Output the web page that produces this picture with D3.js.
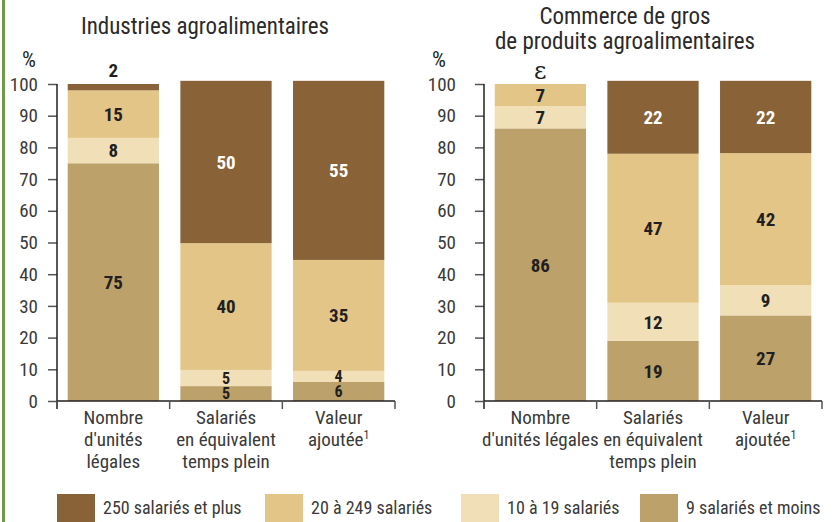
<!DOCTYPE html>
<html><head><meta charset="utf-8">
<script src="https://cdn.jsdelivr.net/npm/d3@7"></script>
<style>
html,body{margin:0;padding:0;background:#fff;}
svg{display:block;}
</style></head>
<body>
<svg id="chart" width="834" height="522"></svg>
<script>
// ---------- DATA ----------
const categoriesLeft = [["Nombre","d'unités","légales"],["Salariés","en équivalent","temps plein"],["Valeur","ajoutée¹"]];
const categoriesRight = [["Nombre","d'unités légales"],["Salariés","en équivalent","temps plein"],["Valeur","ajoutée¹"]];
const seriesNames = ["9 salariés et moins","10 à 19 salariés","20 à 249 salariés","250 salariés et plus"]; // bottom -> top
const legendOrder = ["250 salariés et plus","20 à 249 salariés","10 à 19 salariés","9 salariés et moins"];
const seriesColors = ["#bca16a","#f1dfb7","#e3c588","#8a6238"];

// Industries agroalimentaires (segment heights as drawn)
const iaa9 = [75, 4.7, 6];
const iaa10 = [8, 5.1, 3.5];
const iaa20 = [15, 40, 35];
const iaa250 = [2, 51.2, 56.5];
// printed labels
const iaaLab9 = ["75","5","6"];
const iaaLab10 = ["8","5","4"];
const iaaLab20 = ["15","40","35"];
const iaaLab250 = ["2","50","55"];

// Commerce de gros de produits agroalimentaires
const cg9 = [86, 19, 27];
const cg10 = [7, 12, 9.5];
const cg20 = [7, 47, 41.7];
const cg250 = [0, 23, 22.8];
const cgLab9 = ["86","19","27"];
const cgLab10 = ["7","12","9"];
const cgLab20 = ["7","47","42"];
const cgLab250 = ["ε","22","22"];

const yTicks = [0,10,20,30,40,50,60,70,80,90,100];
const titleLeft = ["Industries agroalimentaires"];
const titleRight = ["Commerce de gros","de produits agroalimentaires"];

// ---------- DRAW ----------
const FONT = "'Liberation Sans Narrow','Arial Narrow','Roboto Condensed',sans-serif";
const svg = d3.select("#chart");
svg.append("rect").attr("x",2).attr("y",0).attr("width",3).attr("height",522).attr("fill","#6f9a47");

function panel(opt){
  const g = svg.append("g");
  const y = d3.scaleLinear().domain([0,100]).range([401,84]);
  const x = d3.scaleBand().domain(d3.range(3)).range([opt.x0, opt.x1]).paddingInner(0.19).paddingOuter(0.095);
  const step = x.step();
  // title
  opt.title.forEach((t,i)=>{
    g.append("text").attr("x",opt.tx).attr("y",opt.ty[i]).attr("text-anchor","middle")
      .attr("font-family",FONT).attr("font-size",23).attr("fill","#2a2a2a").text(t);
  });
  // % label
  g.append("text").attr("x",opt.pctX).attr("y",67).attr("font-family",FONT).attr("font-size",22).attr("fill","#231f20").text("%");
  // stacks
  const rows = d3.range(3).map(i=>{const o={i}; opt.series.forEach((s,k)=>o[k]=s[i]); return o;});
  const stack = d3.stack().keys(d3.range(4))(rows);
  stack.forEach((layer,k)=>{
    layer.forEach((d,i)=>{
      g.append("rect").attr("x",x(i)).attr("width",x.bandwidth())
        .attr("y",y(d[1])).attr("height",Math.max(0,y(d[0])-y(d[1]))).attr("fill",seriesColors[k]);
    });
  });
  // y axis
  const ya = g.append("g").attr("transform",`translate(${opt.x0},0)`)
    .call(d3.axisLeft(y).tickValues(yTicks).tickSize(9).tickFormat(""));
  ya.select(".domain").remove();
  ya.selectAll(".tick line").attr("stroke","#555").attr("stroke-width",1.5);
  yTicks.forEach(v=>{
    g.append("text").attr("x",opt.x0-opt.labGap).attr("y",y(v)).attr("dy","0.35em").attr("text-anchor","end")
      .attr("font-family",FONT).attr("font-size",19).attr("fill","#3a3a3a").text(v);
  });
  g.append("line").attr("x1",opt.x0).attr("x2",opt.x0).attr("y1",y(100)).attr("y2",y(0)+8).attr("stroke","#231f20").attr("stroke-width",1.5);
  // x axis
  g.append("line").attr("x1",opt.x0).attr("x2",opt.x1).attr("y1",y(0)).attr("y2",y(0)).attr("stroke","#231f20").attr("stroke-width",1.5);
  d3.range(4).forEach(i=>{
    const xx = opt.x0 + i*step;
    g.append("line").attr("x1",xx).attr("x2",xx).attr("y1",y(0)).attr("y2",y(0)+8).attr("stroke","#555").attr("stroke-width",1.5);
  });
  // category labels
  opt.cats.forEach((lines,i)=>{
    const t = g.append("text").attr("x",x(i)+x.bandwidth()/2).attr("text-anchor","middle")
      .attr("font-family",FONT).attr("font-size",19).attr("fill","#3a3a3a");
    lines.forEach((ln,j)=>{
      const ts = t.append("tspan").attr("x",x(i)+x.bandwidth()/2).attr("y",424+j*22);
      if(ln.endsWith("¹")){
        ts.text(ln.slice(0,-1));
        ts.append("tspan").attr("dy",-7).attr("font-size",12).text("1");
      } else ts.text(ln);
    });
  });
  // value labels
  stack.forEach((layer,k)=>{
    layer.forEach((d,i)=>{
      const lab = opt.labels[k][i];
      const h = y(d[0])-y(d[1]);
      let cy, col = (k===3)?"#ffffff":"#231f20";
      let fam = FONT, fs = (h < 20) ? 16 : 19, fw = "bold";
      if(h < 10){ cy = y(d[1]) - 14; col = "#231f20"; fs = 19; }
      else cy = (y(d[0])+y(d[1]))/2;
      if(lab==="ε"){ fam="'DejaVu Serif',serif"; fs=24; fw="normal"; }
      g.append("text").attr("x",x(i)+x.bandwidth()/2).attr("y",cy).attr("dy","0.36em").attr("text-anchor","middle")
        .attr("font-family",fam).attr("font-size",fs).attr("font-weight",fw).attr("fill",col).text(lab);
    });
  });
}

panel({x0:57,x1:395,tx:205,ty:[34],title:titleLeft,pctX:22,labGap:19,cats:categoriesLeft,
  series:[iaa9,iaa10,iaa20,iaa250],labels:[iaaLab9,iaaLab10,iaaLab20,iaaLab250]});
panel({x0:484,x1:822,tx:625,ty:[24,49],title:titleRight,pctX:432,labGap:28,cats:categoriesRight,
  series:[cg9,cg10,cg20,cg250],labels:[cgLab9,cgLab10,cgLab20,cgLab250]});

// legend
const legX = [57,265,461,640];
legendOrder.forEach((name,i)=>{
  const k = seriesNames.indexOf(name);
  svg.append("rect").attr("x",legX[i]).attr("y",494).attr("width",38).attr("height",28).attr("fill",seriesColors[k]);
  svg.append("text").attr("x",legX[i]+46).attr("y",508).attr("dy","0.35em").attr("font-family",FONT)
    .attr("font-size",18).attr("fill","#3a3a3a").text(name);
});
</script>
</body></html>
